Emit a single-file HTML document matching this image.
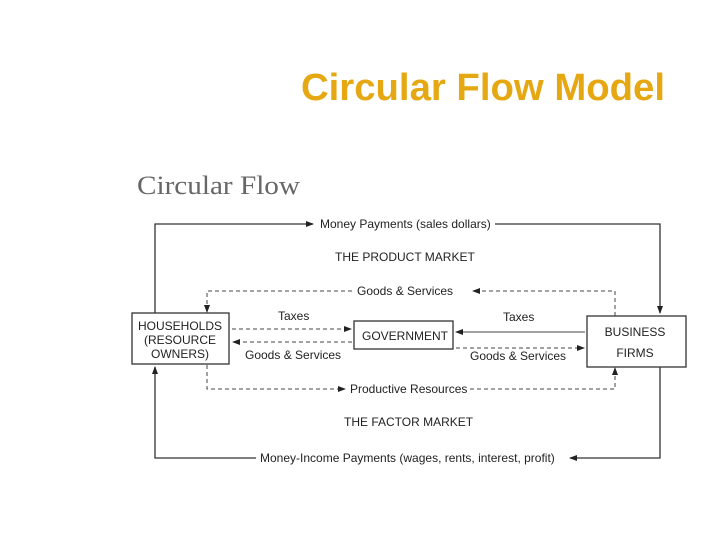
<!DOCTYPE html>
<html><head><style>
body{margin:0;background:#fff;}
svg text{font-family:"Liberation Sans",sans-serif;fill:#222;}
</style></head><body>
<svg width="720" height="540" viewBox="0 0 720 540" xmlns="http://www.w3.org/2000/svg">
<defs>
<marker id="a" markerWidth="8" markerHeight="6" refX="7" refY="3" orient="auto" markerUnits="userSpaceOnUse"><path d="M0,0 L8,3 L0,6z" fill="#222"/></marker>
</defs>
<text x="301" y="100" style="font-size:38px;font-weight:bold;fill:#E6A812" textLength="364" lengthAdjust="spacingAndGlyphs">Circular Flow Model</text>
<text x="137" y="194" style="font-family:'Liberation Serif',serif;font-size:26px;fill:#666" textLength="163" lengthAdjust="spacingAndGlyphs">Circular Flow</text>
<g stroke="#333" stroke-width="1.3" fill="none">
<path d="M155,313 V224 H313" marker-end="url(#a)"/>
<path d="M495,224 H660 V313" marker-end="url(#a)"/>
<path d="M660,367 V458 H570" marker-end="url(#a)"/>
<path d="M256,458 H155 V367" marker-end="url(#a)"/>
<rect x="132" y="313" width="97" height="51"/>
<rect x="587" y="316" width="99" height="51"/>
<rect x="354" y="321" width="99" height="28"/>
</g>
<g stroke="#444" stroke-width="1" fill="none" stroke-dasharray="4,3">
<path d="M615,316 V291 H473" marker-end="url(#a)"/>
<path d="M352,291 H207 V312" marker-end="url(#a)"/>
<path d="M207,365 V389 H345" marker-end="url(#a)"/>
<path d="M470,389 H615 V368" marker-end="url(#a)"/>
<path d="M232,329 H351" marker-end="url(#a)"/>
<path d="M352,342 H233" marker-end="url(#a)"/>
<path d="M456,348 H584" marker-end="url(#a)"/>
</g>
<path d="M585,332 H456" stroke="#444" fill="none" marker-end="url(#a)"/>
<g style="font-size:12px">
<text x="320" y="228">Money Payments (sales dollars)</text>
<text x="335" y="261">THE PRODUCT MARKET</text>
<text x="357" y="295">Goods &amp; Services</text>
<text x="278" y="320">Taxes</text>
<text x="503" y="321">Taxes</text>
<text x="245" y="359">Goods &amp; Services</text>
<text x="470" y="360">Goods &amp; Services</text>
<text x="362" y="340">GOVERNMENT</text>
<text x="180" y="330" text-anchor="middle">HOUSEHOLDS</text>
<text x="180" y="344" text-anchor="middle">(RESOURCE</text>
<text x="180" y="358" text-anchor="middle">OWNERS)</text>
<text x="635" y="336" text-anchor="middle">BUSINESS</text>
<text x="635" y="357" text-anchor="middle">FIRMS</text>
<text x="350" y="393">Productive Resources</text>
<text x="344" y="426">THE FACTOR MARKET</text>
<text x="260" y="462">Money-Income Payments (wages, rents, interest, profit)</text>
</g>
</svg>
</body></html>
